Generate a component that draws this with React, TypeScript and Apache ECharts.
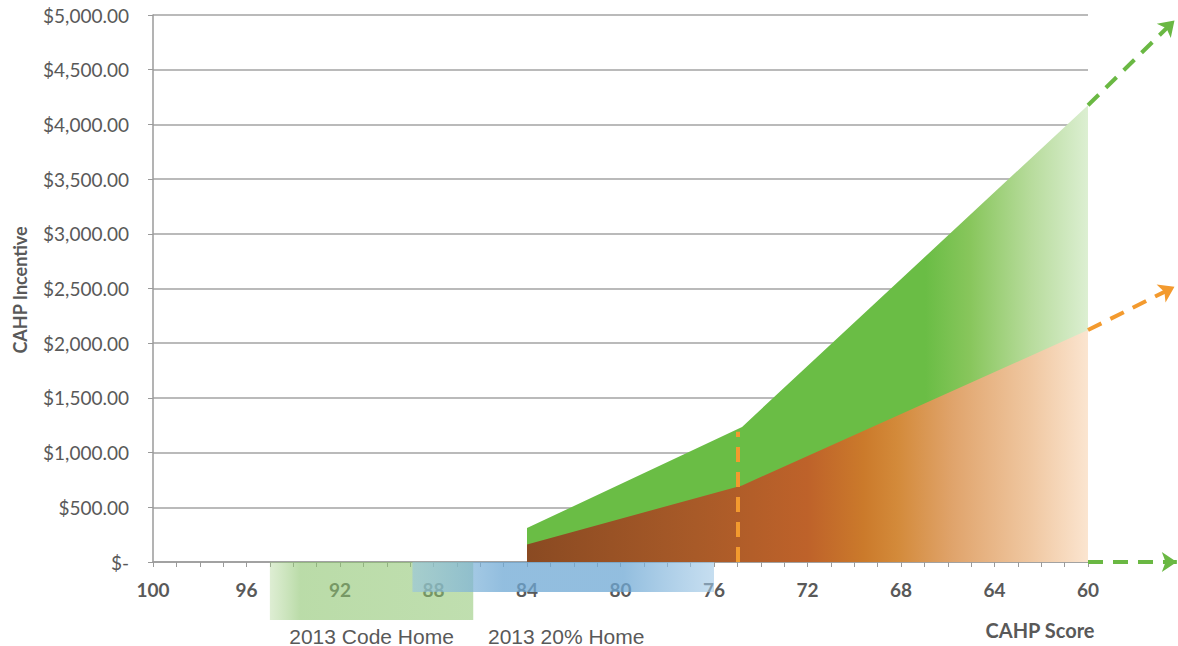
import React, { useEffect, useRef } from "react";
import * as echarts from "echarts";

// ---- data ----
const scoreTicks = [100, 96, 92, 88, 84, 80, 76, 72, 68, 64, 60];
const incentiveScores = [84, 74.8, 60];
const totalIncentive = [310, 1235, 4175]; // green (upper) boundary
const baseIncentive = [160, 700, 2120]; // orange (lower) boundary
const thresholdScore = 75;
const thresholdTop = 1190;
const totalArrow = [[60, 4175], [56.3, 4950]];
const baseArrow = [[60, 2120], [56.3, 2515]];
const axisArrow = [[60, 0], [56.2, 0]];
const codeHomeRange = [95, 86.3];
const twentyHomeRange = [88.9, 76];
const codeHomeLabel = "2013 Code Home";
const twentyHomeLabel = "2013 20% Home";
const xTitle = "CAHP Score";
const yTitle = "CAHP Incentive";

const fmtMoney = (v: number) =>
  v === 0
    ? "$-"
    : "$" + v.toLocaleString("en-US", { minimumFractionDigits: 2, maximumFractionDigits: 2 });

export default function App() {
  const ref = useRef<HTMLDivElement>(null);
  useEffect(() => {
    document.body.style.margin = "0";
    const chart = echarts.init(ref.current!, undefined, { renderer: "svg" });
    const FONT = "Lato";
    const greenGrad = new echarts.graphic.LinearGradient(0, 0, 1, 0, [
      { offset: 0, color: "#6abd45" },
      { offset: 0.71, color: "#6abd45" },
      { offset: 0.79, color: "#88c65c" },
      { offset: 0.9, color: "#b8dc9d" },
      { offset: 1, color: "#dcefd2" },
    ]);
    const orangeGrad = new echarts.graphic.LinearGradient(0, 0, 1, 0, [
      { offset: 0, color: "#8a4a22" },
      { offset: 0.3, color: "#a85a28" },
      { offset: 0.5, color: "#be622a" },
      { offset: 0.6, color: "#cb7a2b" },
      { offset: 0.66, color: "#d38a3a" },
      { offset: 0.76, color: "#e0a46c" },
      { offset: 0.9, color: "#f0c8a2" },
      { offset: 1, color: "#fbe5d0" },
    ]);
    const dashed = (color: string) => ({
      color,
      width: 4,
      type: [15, 10] as any,
      opacity: 1,
    });
    chart.setOption({
      animation: false,
      grid: { left: 153, right: 90, top: 15, bottom: 84 },
      xAxis: {
        type: "value",
        inverse: true,
        min: 60,
        max: 100,
        interval: 4,
        axisLine: { show: true, lineStyle: { color: "#9a9a9a", width: 1.5 } },
        axisTick: { show: true, length: 5, inside: false, lineStyle: { color: "#9a9a9a" } },
        minorTick: { show: true, splitNumber: 4, length: 5, lineStyle: { color: "#9a9a9a" } },
        splitLine: { show: false },
        axisLabel: {
          margin: 18,
          color: "#595959",
          fontWeight: "bold",
          fontSize: 19,
          fontFamily: FONT,
          formatter: (v: number) => (scoreTicks.includes(v) ? String(v) : ""),
        },
      },
      yAxis: {
        type: "value",
        min: 0,
        max: 5000,
        interval: 500,
        axisLine: { show: true, lineStyle: { color: "#9a9a9a", width: 1.5 } },
        axisTick: { show: true, length: 5, lineStyle: { color: "#9a9a9a" } },
        splitLine: { show: true, lineStyle: { color: "#a3a3a3", width: 1.6 } },
        axisLabel: {
          margin: 24,
          color: "#595959",
          fontSize: 19,
          fontFamily: FONT,
          formatter: fmtMoney,
        },
      },
      series: [
        {
          type: "line",
          data: incentiveScores.map((s, i) => [s, totalIncentive[i]]),
          showSymbol: false,
          lineStyle: { width: 0 },
          areaStyle: { color: greenGrad, opacity: 1 },
          z: 2,
        },
        {
          type: "line",
          data: incentiveScores.map((s, i) => [s, baseIncentive[i]]),
          showSymbol: false,
          lineStyle: { width: 0 },
          areaStyle: { color: orangeGrad, opacity: 1 },
          z: 3,
        },
        {
          type: "lines",
          coordinateSystem: "cartesian2d",
          clip: false,
          z: 5,
          symbol: ["none", "none"],
          lineStyle: dashed("#f39a2e"),
          data: [{ coords: [[thresholdScore, 0], [thresholdScore, thresholdTop]] }],
        },
        {
          type: "lines",
          coordinateSystem: "cartesian2d",
          clip: false,
          z: 5,
          symbol: ["none", "arrow"],
          symbolSize: 15,
          lineStyle: dashed("#6ab843"),
          data: [{ coords: totalArrow }, { coords: axisArrow }],
        },
        {
          type: "lines",
          coordinateSystem: "cartesian2d",
          clip: false,
          z: 5,
          symbol: ["none", "arrow"],
          symbolSize: 15,
          lineStyle: dashed("#f39a2e"),
          data: [{ coords: baseArrow }],
        },
      ],
    });

    const px = (x: number, y: number) =>
      chart.convertToPixel({ gridIndex: 0 }, [x, y]) as number[];
    const base = px(60, 0)[1];
    const cg0 = px(codeHomeRange[0], 0)[0];
    const cg1 = px(codeHomeRange[1], 0)[0];
    const tb0 = px(twentyHomeRange[0], 0)[0];
    const tb1 = px(twentyHomeRange[1], 0)[0];
    const legendFont = "21px 'Liberation Sans', Arial, sans-serif";
    chart.setOption({
      graphic: [
        {
          type: "rect",
          z: 100,
          shape: { x: cg0, y: base, width: cg1 - cg0, height: 58 },
          style: {
            fill: new echarts.graphic.LinearGradient(0, 0, 1, 0, [
              { offset: 0, color: "rgba(160,205,130,0.35)" },
              { offset: 0.15, color: "rgba(140,196,110,0.6)" },
              { offset: 1, color: "rgba(140,196,110,0.55)" },
            ]),
          },
        },
        {
          type: "rect",
          z: 101,
          shape: { x: tb0, y: base, width: tb1 - tb0, height: 30 },
          style: {
            fill: new echarts.graphic.LinearGradient(0, 0, 1, 0, [
              { offset: 0, color: "rgba(150,195,225,0.6)" },
              { offset: 0.3, color: "rgba(110,168,212,0.75)" },
              { offset: 0.7, color: "rgba(110,168,212,0.75)" },
              { offset: 1, color: "rgba(160,200,230,0.6)" },
            ]),
          },
        },
        {
          type: "text",
          z: 102,
          x: (cg0 + cg1) / 2,
          y: 636,
          style: {
            text: codeHomeLabel,
            fill: "#595959",
            font: legendFont,
            align: "center",
            verticalAlign: "middle",
          },
        },
        {
          type: "text",
          z: 102,
          x: (tb0 + tb1) / 2 + 3,
          y: 636,
          style: {
            text: twentyHomeLabel,
            fill: "#595959",
            font: legendFont,
            align: "center",
            verticalAlign: "middle",
          },
        },
        {
          type: "text",
          z: 102,
          x: 1040,
          y: 630,
          style: {
            text: xTitle,
            fill: "#595959",
            font: "bold 20px Lato",
            align: "center",
            verticalAlign: "middle",
          },
        },
        {
          type: "text",
          z: 102,
          x: 20,
          y: 290,
          rotation: Math.PI / 2,
          style: {
            text: yTitle,
            fill: "#595959",
            font: "bold 18px Lato",
            align: "center",
            verticalAlign: "middle",
          },
        },
      ],
    });
    return () => chart.dispose();
  }, []);
  return <div ref={ref} style={{ width: 1178, height: 646 }} />;
}
